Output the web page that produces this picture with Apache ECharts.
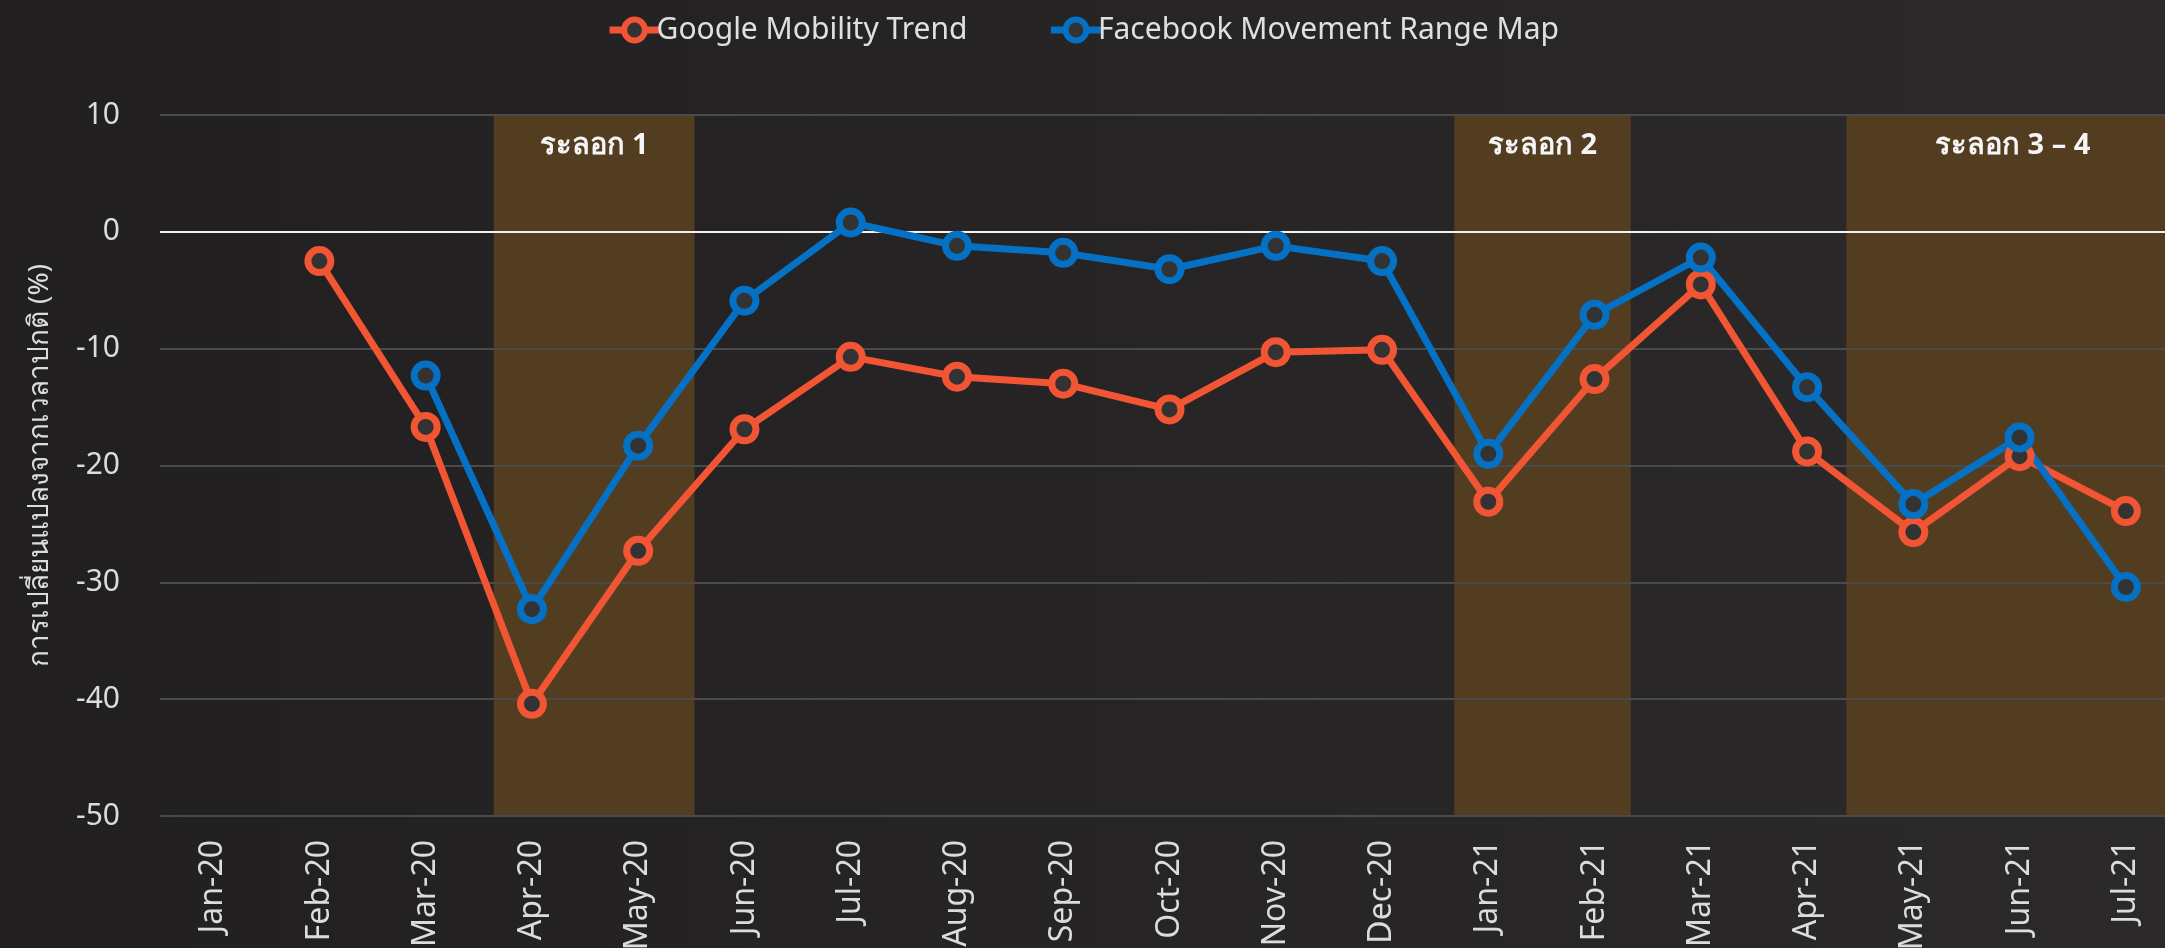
<!DOCTYPE html>
<html>
<head>
<meta charset="utf-8">
<script src="https://cdn.jsdelivr.net/npm/echarts@6/dist/echarts.min.js"></script>
<style>
  html, body { margin: 0; padding: 0; background: #242122; }
  #chart { width: 2165px; height: 948px; }
</style>
</head>
<body>
<div id="chart"></div>
<script>
const months = ['Jan-20', 'Feb-20', 'Mar-20', 'Apr-20', 'May-20', 'Jun-20', 'Jul-20', 'Aug-20', 'Sep-20', 'Oct-20',
  'Nov-20', 'Dec-20', 'Jan-21', 'Feb-21', 'Mar-21', 'Apr-21', 'May-21', 'Jun-21', 'Jul-21']
const google = [null, -2.5, -16.7, -40.4, -27.3, -16.9, -10.7, -12.4, -13.0, -15.2,
  -10.3, -10.1, -23.1, -12.6, -4.5, -18.8, -25.7, -19.2, -23.9]
const facebook = [null, null, -12.3, -32.3, -18.3, -5.9, 0.8, -1.2, -1.8, -3.2,
  -1.2, -2.5, -19.0, -7.1, -2.2, -13.3, -23.3, -17.6, -30.4]
// ช่วงระลอก (หน่วยเป็นลำดับเดือน)
const waveNames = ['ระลอก 1', 'ระลอก 2', 'ระลอก 3 – 4']
const waveStart = [2.64, 11.68, 15.37]
const waveEnd = [4.53, 13.34, 18.5]
const yTicks = [-50, -40, -30, -20, -10, 0, 10]

const font = 'Noto Sans'
const chart = echarts.init(document.getElementById('chart'))

function lineSeries (name, color, data) {
  return {
    name,
    type: 'line',
    data,
    symbol: 'circle',
    symbolSize: 23,
    showAllSymbol: true,
    connectNulls: false,
    z: 5,
    lineStyle: { color, width: 7 },
    itemStyle: { color: '#333', borderColor: color, borderWidth: 7 }
  }
}

chart.setOption({
  backgroundColor: {
    type: 'linear', x: 0, y: 0, x2: 1, y2: 0,
    colorStops: [{ offset: 0, color: '#221f20' }, { offset: 1, color: '#2b292a' }]
  },
  textStyle: { fontFamily: font },
  legend: {
    top: 10,
    left: 'center',
    itemWidth: 50,
    itemHeight: 26,
    itemGap: 80,
    itemStyle: { borderWidth: 6 },
    lineStyle: { width: 7 },
    textStyle: { color: '#e0e0e0', fontSize: 30, fontFamily: font, padding: [0, 0, 0, -8] },
    data: ['Google Mobility Trend', 'Facebook Movement Range Map']
  },
  grid: { left: 160, right: -14, top: 115, bottom: 132, containLabel: false, outerBoundsMode: 'none' },
  xAxis: [{
    type: 'category',
    data: months,
    boundaryGap: true,
    axisLine: { show: false },
    axisTick: { show: false },
    axisLabel: { rotate: 90, color: '#dcdcdc', fontSize: 32, margin: 24, fontFamily: font, interval: 0 }
  }, {
    type: 'value',
    min: -0.5,
    max: 18.5,
    show: false
  }],
  yAxis: {
    type: 'value',
    min: -50,
    max: 10,
    interval: 10,
    name: 'การเปลี่ยนแปลงจากเวลาปกติ (%)',
    nameLocation: 'middle',
    nameGap: 106,
    nameTextStyle: { color: '#dcdcdc', fontSize: 28, fontFamily: font },
    axisLine: { show: false },
    axisTick: { show: false },
    axisLabel: { color: '#dcdcdc', fontSize: 30, margin: 40, fontFamily: font },
    z: 3,
    splitLine: {
      lineStyle: {
        width: 2,
        color: yTicks.map(v => v === 0 ? '#f2f2f2' : '#4b4a4a')
      }
    }
  },
  series: [
    lineSeries('Google Mobility Trend', '#f15534', google),
    lineSeries('Facebook Movement Range Map', '#0571c5', facebook),
    {
      name: 'waves',
      type: 'line',
      xAxisIndex: 1,
      data: [],
      silent: true,
      z: 1,
      markArea: {
        silent: true,
        z: 1,
        itemStyle: { color: '#523d20' },
        label: {
          show: true,
          position: 'insideTop',
          distance: 16,
          color: '#f5f5f5',
          fontSize: 29,
          fontWeight: 'bold',
          fontFamily: font
        },
        data: waveNames.map((n, i) => [{ name: n, xAxis: waveStart[i] }, { xAxis: waveEnd[i] }])
      }
    }
  ]
})
</script>
</body>
</html>
